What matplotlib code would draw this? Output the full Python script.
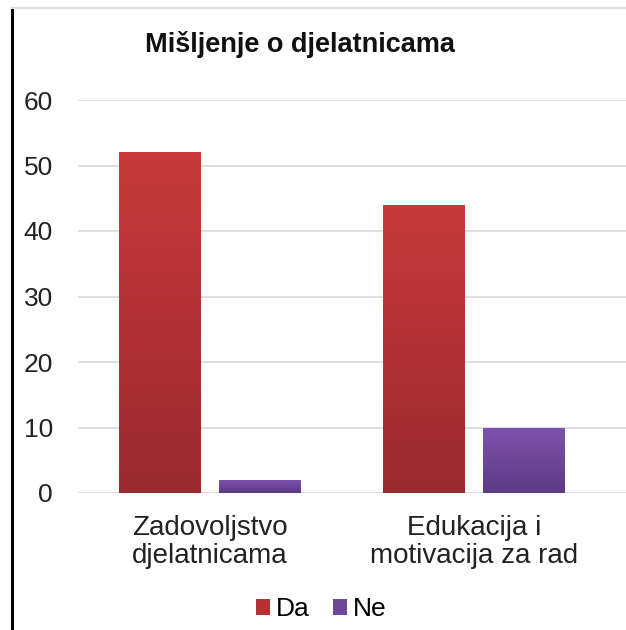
import numpy as np
import matplotlib
matplotlib.use("Agg")
import matplotlib.pyplot as plt
from matplotlib.patches import Patch
from matplotlib.lines import Line2D
from matplotlib.colors import LinearSegmentedColormap

categories = ["Zadovoljstvo\ndjelatnicama", "Edukacija i\nmotivacija za rad"]
series_names = ["Da", "Ne"]
da_values = [52, 44]
ne_values = [2, 10]
yticks = [0, 10, 20, 30, 40, 50, 60]
title = "Mišljenje o djelatnicama"

plt.rcParams['font.family'] = ['Liberation Sans', 'DejaVu Sans']

W, H = 626, 630
fig = plt.figure(figsize=(W / 100, H / 100), dpi=100)
ax = fig.add_axes([78 / W, 137 / H, (626 - 78) / W, (493 - 100) / H])

x = np.arange(len(categories))
width = 0.31
offset = 0.19

red_cmap = LinearSegmentedColormap.from_list("r", ["#9a2a2e", "#c83a3c"])
pur_cmap = LinearSegmentedColormap.from_list("p", ["#5c3a84", "#7e52ae"])

bars_da = ax.bar(x - offset, da_values, width, color="#b33234", zorder=2)
bars_ne = ax.bar(x + offset, ne_values, width, color="#6e4799", zorder=2)

grad = np.linspace(0, 1, 256).reshape(-1, 1)
for bars, cmap in ((bars_da, red_cmap), (bars_ne, pur_cmap)):
    for b in bars:
        x0, y0 = b.get_x(), b.get_y()
        w, h = b.get_width(), b.get_height()
        im = ax.imshow(grad, cmap=cmap, origin="lower", aspect="auto",
                       extent=(x0, x0 + w, y0, y0 + h), zorder=3)
        im.set_clip_path(b)

ax.set_xlim(-0.5, 1.576)
ax.set_ylim(0, 60)
ax.set_yticks(yticks)
ax.set_yticklabels([str(t) for t in yticks], fontsize=19, color="#222222")
ax.set_xticks(x)
ax.set_xticklabels(categories, fontsize=20, color="#222222", linespacing=1.08)
ax.tick_params(axis="y", length=0, pad=18)
ax.tick_params(axis="x", length=0, pad=16)
ax.grid(axis="y", color="#d9d9d9", linewidth=1.2, zorder=0)
for s in ax.spines.values():
    s.set_visible(False)
ax.set_axisbelow(True)

fig.text(300 / W, 1 - 45 / H, title, ha="center", va="center",
         fontsize=19.5, fontweight="bold", color="#111111")

handles = [Patch(facecolor="#b33234"), Patch(facecolor="#6e4799")]
leg = fig.legend(handles, series_names, loc="center", bbox_to_anchor=(321 / W, 1 - 609 / H),
                 ncol=2, frameon=False, fontsize=19, handlelength=0.55, handleheight=0.55,
                 handletextpad=0.2, columnspacing=0.9)

fig.add_artist(Line2D([12 / W, 12 / W], [0, 1 - 10 / H], color="black", linewidth=2.2,
                      transform=fig.transFigure))
fig.add_artist(Line2D([12 / W, 1], [1 - 8 / H, 1 - 8 / H], color="#dddddd", linewidth=1.5,
                      transform=fig.transFigure))

fig.savefig("out.png", dpi=100, facecolor="white")
